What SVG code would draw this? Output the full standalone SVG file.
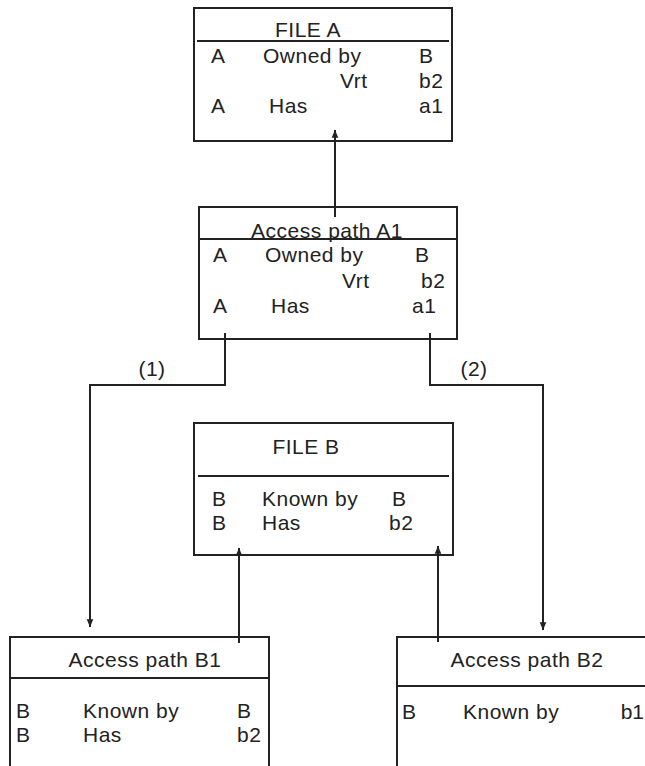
<svg xmlns="http://www.w3.org/2000/svg" width="645" height="766" viewBox="0 0 645 766">
<defs>
<style>
.box{fill:#fff;stroke:#222;stroke-width:2}
.sep{stroke:#222;stroke-width:2}
.t{font-family:"Liberation Sans",Arial,sans-serif;font-size:21px;fill:#222;letter-spacing:0.5px}
.m{text-anchor:middle}
.e{text-anchor:end;letter-spacing:0}
.c{fill:none;stroke:#222;stroke-width:2}
</style>
<marker id="ah" markerUnits="userSpaceOnUse" markerWidth="10" markerHeight="10" viewBox="-8 -4 9 8" refX="0" refY="0" orient="auto">
<path d="M0,0 L-7,-3 L-7,3 Z" fill="#222"/>
</marker>
</defs>
<rect width="645" height="766" fill="#fff"/>
<g id="fileA">
<rect class="box" x="194" y="8" width="258" height="133"/>
<line class="sep" x1="197" y1="41" x2="449" y2="41"/>
<text class="t m" x="308" y="37">FILE A</text>
<text class="t" x="211" y="63">A</text><text class="t" x="263" y="63">Owned by</text><text class="t" x="419" y="63">B</text>
<text class="t" x="340" y="88">Vrt</text><text class="t" x="419" y="88">b2</text>
<text class="t" x="211" y="113">A</text><text class="t" x="269" y="113">Has</text><text class="t" x="419" y="113">a1</text>
</g>
<g id="accessA1">
<rect class="box" x="199" y="207" width="258" height="132"/>
<line class="sep" x1="199" y1="239" x2="457" y2="239"/>
<text class="t m" x="327" y="238">Access path A1</text>
<text class="t" x="213" y="262">A</text><text class="t" x="265" y="262">Owned by</text><text class="t" x="415" y="262">B</text>
<text class="t" x="342" y="288">Vrt</text><text class="t" x="421" y="288">b2</text>
<text class="t" x="213" y="313">A</text><text class="t" x="271" y="313">Has</text><text class="t" x="412" y="313">a1</text>
</g>
<g id="fileB">
<rect class="box" x="194" y="423" width="259" height="132"/>
<line class="sep" x1="198" y1="476" x2="449" y2="476"/>
<text class="t m" x="306" y="454">FILE B</text>
<text class="t" x="212" y="506">B</text><text class="t" x="262" y="506">Known by</text><text class="t" x="392" y="506">B</text>
<text class="t" x="212" y="530">B</text><text class="t" x="262" y="530">Has</text><text class="t" x="389" y="530">b2</text>
</g>
<g id="accessB1">
<rect class="box" x="10" y="637" width="259" height="160"/>
<line class="sep" x1="10" y1="678" x2="269" y2="678"/>
<text class="t m" x="145" y="667">Access path B1</text>
<text class="t" x="16" y="718">B</text><text class="t" x="83" y="718">Known by</text><text class="t" x="237" y="718">B</text>
<text class="t" x="16" y="742">B</text><text class="t" x="83" y="742">Has</text><text class="t" x="237" y="742">b2</text>
</g>
<g id="accessB2">
<rect class="box" x="397" y="637" width="270" height="160"/>
<line class="sep" x1="397" y1="686" x2="667" y2="686"/>
<text class="t m" x="527" y="667">Access path B2</text>
<text class="t" x="402" y="719">B</text><text class="t" x="463" y="719">Known by</text><text class="t e" x="644" y="719">b1</text>
</g>
<g id="connectors">
<path class="c" d="M335,217 V130" marker-end="url(#ah)"/>
<path class="c" d="M225,333 V385 H90 V627" marker-end="url(#ah)"/>
<path class="c" d="M430,333 V385 H543 V630" marker-end="url(#ah)"/>
<path class="c" d="M239,643 V548" marker-end="url(#ah)"/>
<path class="c" d="M438,642 V546" marker-end="url(#ah)"/>
<text class="t m" x="152" y="376">(1)</text>
<text class="t m" x="474" y="376">(2)</text>
</g>
</svg>
